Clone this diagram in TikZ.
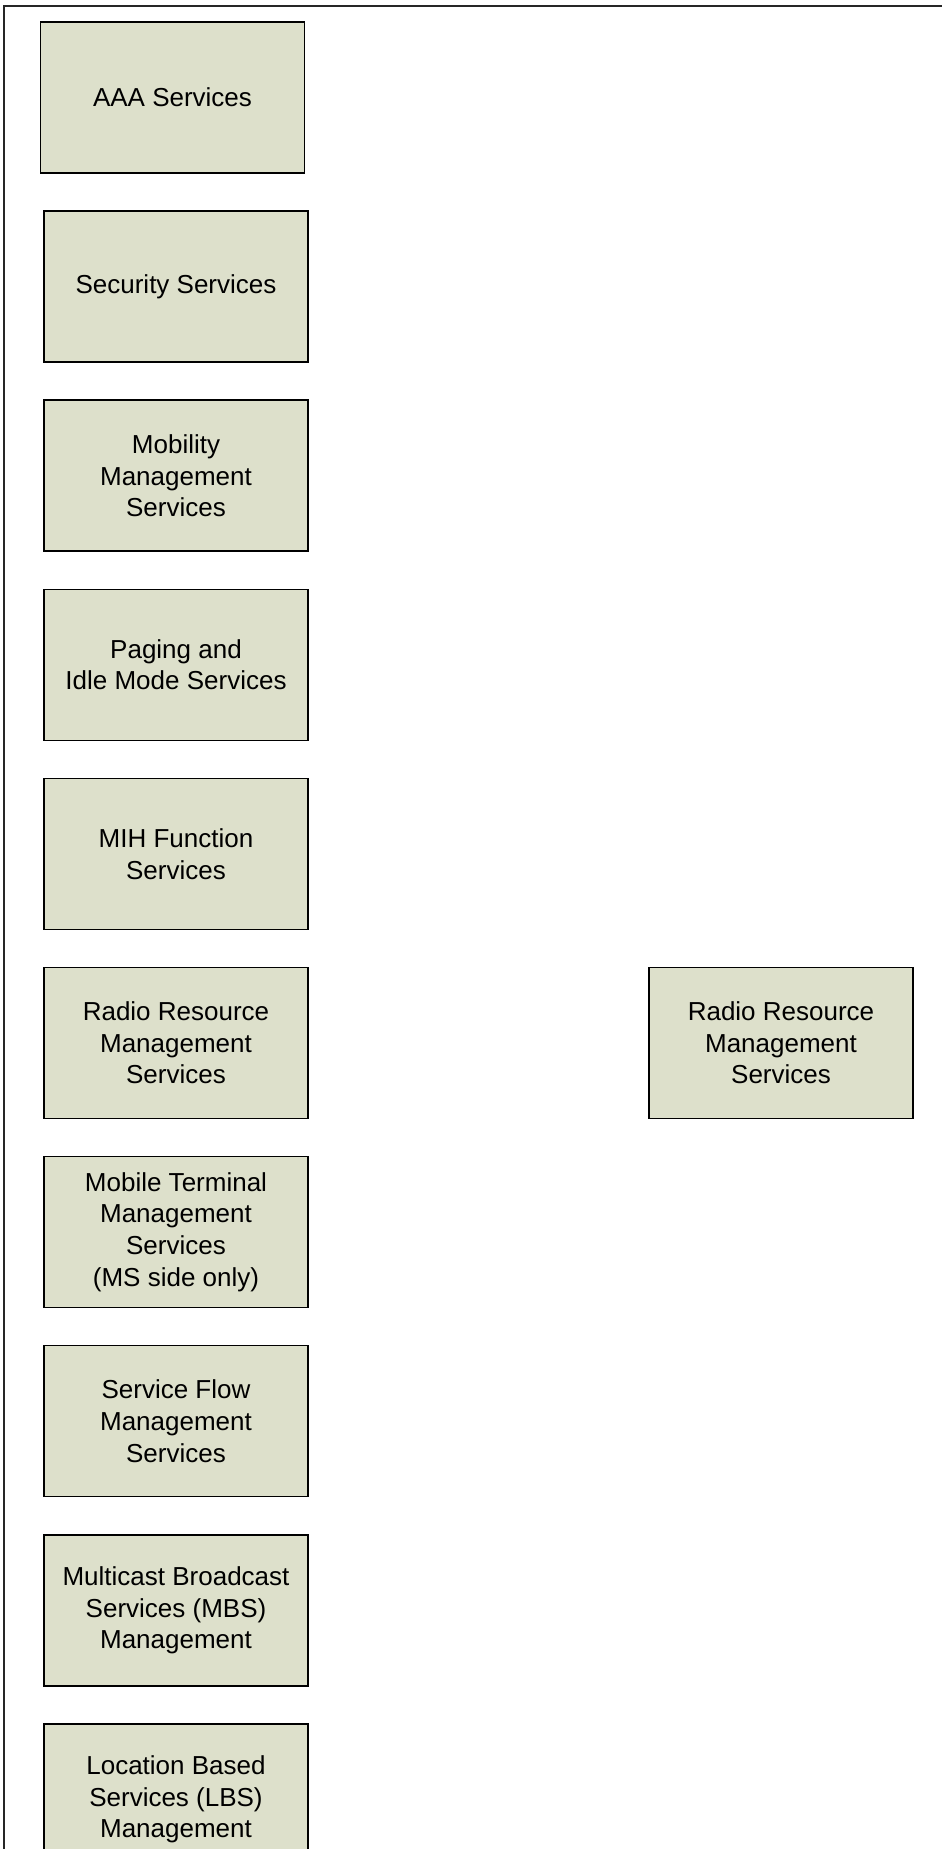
\documentclass[tikz,border=0pt]{standalone}
\usepackage{fontspec}
\setmainfont{Liberation Sans}
\definecolor{boxfill}{RGB}{221,224,203}
\begin{document}
\begin{tikzpicture}[x=0.5pt,y=-0.5pt]
        \useasboundingbox (0,0) rectangle (942,1849);
        \draw[line width=0.75pt,color=black!85] (4,1849) -- (4,6) -- (942,6);
        \begin{scope}[every node/.style={rectangle,draw,line width=0.75pt,fill=boxfill,
                minimum width=132pt,minimum height=75.5pt,align=center,
                font=\fontsize{13pt}{15.8pt}\selectfont}]
            \node (aaa)  at (172.5,97.5) {AAA Services};
            \node (sec)  at (176,286.6) {Security Services};
            \node (mob)  at (176,475.7) {Mobility\\Management\\Services};
            \node (pag)  at (176,664.8) {Paging and\\Idle Mode Services};
            \node (mih)  at (176,853.9) {MIH Function\\Services};
            \node (rrm)  at (176,1043) {Radio Resource\\Management\\Services};
            \node (mt)   at (176,1232) {Mobile Terminal\\Management\\Services\\(MS side only)};
            \node (sf)   at (176,1421.2) {Service Flow\\Management\\Services};
            \node (mbs)  at (176,1610.3) {Multicast Broadcast\\Services (MBS)\\Management};
            \node (lbs)  at (176,1799.4) {Location Based\\Services (LBS)\\Management};
            \node (rrm2) at (781,1043) {Radio Resource\\Management\\Services};
        \end{scope}
    \end{tikzpicture}
\end{document}
